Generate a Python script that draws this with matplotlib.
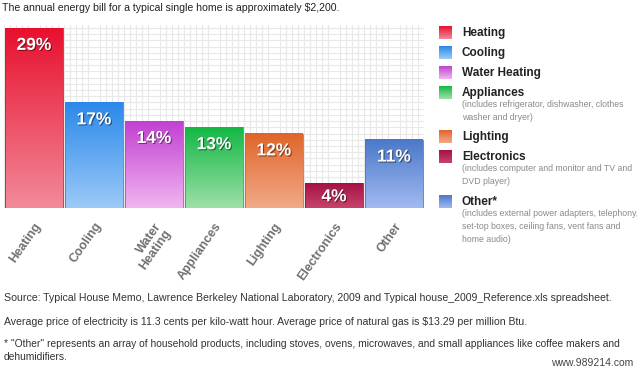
import numpy as np
import matplotlib
matplotlib.use('Agg')
import matplotlib.pyplot as plt
import matplotlib.patheffects as pe
from matplotlib.colors import LinearSegmentedColormap
from matplotlib.patches import Rectangle

plt.rcParams['font.family'] = ['Liberation Sans', 'DejaVu Sans']

# %% Data
categories = ['Heating', 'Cooling', 'Water Heating', 'Appliances', 'Lighting', 'Electronics', 'Other']
tick_labels = ['Heating', 'Cooling', 'Water\nHeating', 'Appliances', 'Lighting', 'Electronics', 'Other']
shares = [29, 17, 14, 13, 12, 4, 11]
legend_names = ['Heating', 'Cooling', 'Water Heating', 'Appliances', 'Lighting', 'Electronics', 'Other*']
legend_notes = ['', '', '',
                '(includes refrigerator, dishwasher, clothes\nwasher and dryer)',
                '',
                '(includes computer and monitor and TV and\nDVD player)',
                '(includes external power adapters, telephony,\nset-top boxes, ceiling fans, vent fans and\nhome audio)']
top_colors = ['#e8102e', '#2a88ea', '#c23fd2', '#12b845', '#e0652a', '#a41245', '#4a78c8']
bottom_colors = ['#f28a9a', '#9ccaf8', '#f0b6f0', '#9ee0a8', '#f2aa88', '#c8436c', '#a2baf2']

W, H = 637, 370
fig = plt.figure(figsize=(W / 100, H / 100), dpi=100)

def px(x, y, w, h):
    return [x / W, 1 - (y + h) / H, w / W, h / H]

# %% Bars
ax = fig.add_axes(px(4, 25, 420, 183))
ymax = 29 * 183 / 180
ax.set_xlim(-0.5, 6.5)
ax.set_ylim(0, ymax)
ax.set_xticks(np.arange(-0.5, 6.5, 0.1), minor=True)
ax.set_yticks(np.arange(0, ymax, 1.0), minor=True)
ax.grid(which='minor', color='#e8e8e8', linewidth=0.8)
ax.grid(which='major', visible=False)
ax.set_axisbelow(True)
ax.tick_params(which='both', length=0)
ax.set_yticks([])
for s in ax.spines.values():
    s.set_visible(False)

width = 0.965
pt_per_unit = 183 / ymax * 0.72  # bar height in points per percent
grad = np.linspace(0, 1, 256).reshape(-1, 1)
for i, (v, c0, c1) in enumerate(zip(shares, top_colors, bottom_colors)):
    cmap = LinearSegmentedColormap.from_list('g%d' % i, [c1, c0])
    ax.imshow(grad, extent=(i - width / 2, i + width / 2, 0, v), origin='lower',
              cmap=cmap, aspect='auto', zorder=2)
    ax.add_patch(Rectangle((i - width / 2, 0), width, v, fill=False,
                           edgecolor=c0, linewidth=0.6, zorder=3))
    off = min(12.5, v * pt_per_unit * 0.55)
    ax.annotate('%d%%' % v, (i, v), xytext=(0, -off), textcoords='offset points',
                ha='center', va='center', color='white', fontsize=12.5, fontweight='bold',
                zorder=4,
                path_effects=[pe.SimplePatchShadow(offset=(0.8, -0.8), shadow_rgbFace='k', alpha=0.45),
                              pe.Normal()])

ax.set_xticks(range(len(categories)))
ax.set_xticklabels(tick_labels, rotation=55, ha='right', rotation_mode='anchor',
                   fontsize=9, fontweight='bold', color='#707070', linespacing=1.0)
ax.tick_params(axis='x', which='major', pad=9)

# %% Legend
lg = fig.add_axes(px(430, 20, 207, 235))
lg.set_xlim(0, 207)
lg.set_ylim(235, 0)
lg.axis('off')
rows = [13, 33, 53, 73, 117, 137, 182]
for name, note, c0, c1, y in zip(legend_names, legend_notes, top_colors, bottom_colors, rows):
    cmap = LinearSegmentedColormap.from_list('l' + name, [c0, c1])
    lg.imshow(grad, extent=(9, 22, y + 6.5, y - 6.5), cmap=cmap, aspect='auto')
    lg.text(32, y, name, fontsize=8.5, fontweight='bold', color='#222222', va='center')
    if note:
        lg.text(32, y + 7, note, fontsize=6.3, color='#8a8a8a', va='top', linespacing=1.55)

# %% Header / footer text
fig.text(2 / W, 1 - 8 / H, 'The annual energy bill for a typical single home is approximately $2,200.',
         fontsize=7.6, color='#222222', va='center')
fs = 7.6
fig.text(4 / W, 1 - 298 / H, 'Source: Typical House Memo, Lawrence Berkeley National Laboratory, 2009 and '
         'Typical house_2009_Reference.xls spreadsheet.', fontsize=fs, color='#333333', va='center')
fig.text(4 / W, 1 - 322 / H, 'Average price of electricity is 11.3 cents per kilo-watt hour. Average price '
         'of natural gas is $13.29 per million Btu.', fontsize=fs, color='#333333', va='center')
fig.text(4 / W, 1 - 344 / H, '* "Other" represents an array of household products, including stoves, ovens, '
         'microwaves, and small appliances like coffee makers and', fontsize=7.35, color='#333333',
         va='center')
fig.text(4 / W, 1 - 357 / H, 'dehumidifiers.', fontsize=7.35, color='#333333', va='center')
fig.text(633 / W, 1 - 363 / H, 'www.989214.com', fontsize=7.5, color='#444444', va='center', ha='right')

fig.savefig('out.png', dpi=100)
